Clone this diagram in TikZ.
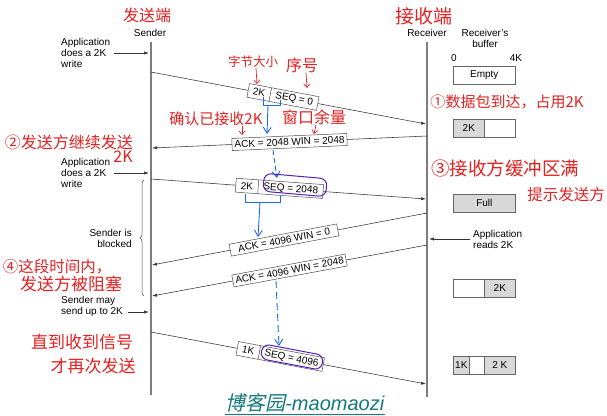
\documentclass[tikz,border=0pt]{standalone}
\usepackage{fontspec}
\setmainfont{Liberation Sans}
\newfontfamily\cjk{Noto Sans CJK SC}
\newfontfamily\cjkit[FakeSlant=0.22]{Noto Sans CJK SC}
\usetikzlibrary{arrows.meta,shapes.multipart,decorations.pathreplacing}
\definecolor{annred}{RGB}{228,32,32}
\definecolor{annblue}{RGB}{30,105,235}
\definecolor{annpurple}{RGB}{85,30,190}
\definecolor{bufgray}{RGB}{216,216,216}
\definecolor{linegray}{RGB}{125,125,125}
\definecolor{tealtxt}{RGB}{20,120,125}
\tikzset{
  timeline/.style={draw=linegray, line width=1.3pt},
  msg/.style={draw=black!80, line width=0.55pt, -{Latex[length=5pt,width=3.2pt]}},
  appar/.style={draw=black!80, line width=0.55pt, -{Latex[length=5pt,width=3.2pt]}},
  lbl/.style={draw=black!70, fill=white, line width=0.5pt, inner xsep=2.5pt, inner ysep=2.5pt, font=\fontsize{10}{11}\selectfont},
  seglbl/.style={lbl, inner xsep=5pt, rectangle split, rectangle split horizontal, rectangle split parts=2},
  txt/.style={font=\fontsize{10}{11}\selectfont, align=left, inner sep=0pt},
  buf/.style={draw=black!60, line width=0.6pt, minimum height=18pt, inner sep=0pt, anchor=north west, font=\fontsize{10}{11}\selectfont},
  redtxt/.style={text=annred, inner sep=0pt},
  redarr/.style={draw=annred, line width=0.7pt, -{Straight Barb[length=3.5pt,width=6pt]}},
  bluepen/.style={draw=annblue, line width=1pt},
  bluearr/.style={draw=annblue, line width=0.9pt, -{Straight Barb[length=6pt,width=8pt]}},
  loop/.style={draw=annpurple, line width=1pt, rounded corners=7pt, inner sep=0pt}
}
\begin{document}
\begin{tikzpicture}[x=1pt,y=-1pt]
\useasboundingbox (0,0) rectangle (607,415);

% headers
\node[font=\fontsize{10}{11}\selectfont] (sender) at (150,33) {Sender};
\node[font=\fontsize{10}{11}\selectfont] (receiver) at (427,33) {Receiver};
\node[font=\fontsize{10}{11}\selectfont, align=center] (rbuf) at (485,38) {Receiver's\\buffer};
\node[font=\fontsize{10}{11}\selectfont] (zero) at (454,58) {0};
\node[font=\fontsize{10}{11}\selectfont] (fourk) at (516,58) {4K};

% time lines
\coordinate (stop) at (151,42); \coordinate (sbot) at (151,395);
\coordinate (rtop) at (427,42); \coordinate (rbot) at (427,397);
\draw[timeline] (stop) -- (sbot);
\draw[timeline] (rtop) -- (rbot);

% application texts
\node[txt, anchor=west] (app1) at (61,53) {Application\\does a 2K\\write};
\coordinate (a1s) at (114,53); \coordinate (a1e) at (149,53);
\draw[appar] (a1s) -- (a1e);
\node[txt, anchor=west] (app2) at (61,173) {Application\\does a 2K\\write};
\coordinate (a2s) at (114,173); \coordinate (a2e) at (149,173);
\draw[appar] (a2s) -- (a2e);
\node[txt, anchor=west] (may) at (61,306) {Sender may\\send up to 2K};
\coordinate (a3s) at (128,312); \coordinate (a3e) at (149,312);
\draw[appar] (a3s) -- (a3e);
\node[txt, anchor=west] (reads) at (473,239) {Application\\reads 2K};
\coordinate (a4s) at (470,239); \coordinate (a4e) at (429,239);
\draw[appar] (a4s) -- (a4e);
\node[txt, align=right, anchor=east] (blocked) at (132,238) {Sender is\\blocked};
\coordinate (brb) at (144,296); \coordinate (brt) at (144,180);
\draw[black!70, line width=0.5pt, decorate, decoration={brace, amplitude=4pt}] (brb) -- (brt);

% messages
\coordinate (s1) at (151,72); \coordinate (r1) at (426,124);
\draw[msg] (s1) -- node[seglbl, sloped, pos=0.48] (d1) {2K\nodepart{two}SEQ = 0} (r1);
\coordinate (r2) at (427,136); \coordinate (s2) at (152,148);
\draw[msg] (r2) -- node[lbl, sloped, pos=0.5] (k1) {ACK = 2048 WIN = 2048} (s2);
\coordinate (s3) at (151,179); \coordinate (r3) at (426,199);
\draw[msg] (s3) -- node[seglbl, sloped, pos=0.467] (d2) {2K\nodepart{two}SEQ = 2048} (r3);
\coordinate (r4) at (427,213); \coordinate (s4) at (152,265);
\draw[msg] (r4) -- node[lbl, inner xsep=8pt, sloped, pos=0.52] (k2) {ACK = 4096 WIN = 0} (s4);
\coordinate (r5) at (427,245); \coordinate (s5) at (152,296);
\draw[msg] (r5) -- node[lbl, sloped, pos=0.5] (k3) {ACK = 4096 WIN = 2048} (s5);
\coordinate (s6) at (151,332); \coordinate (r6) at (426,384);
\draw[msg] (s6) -- node[seglbl, sloped, pos=0.47] (d3) {1K\nodepart{two}SEQ = 4096} (r6);

% buffers
\node[buf, minimum width=62pt] (b0) at (453,66) {Empty};
\node[buf, fill=bufgray, minimum width=31pt] (b1a) at (453,119) {2K};
\node[buf, minimum width=31pt] (b1b) at (484,119) {};
\node[buf, fill=bufgray, minimum width=62pt] (b2) at (453,194) {Full};
\node[buf, minimum width=31pt] (b3a) at (453,279) {};
\node[buf, fill=bufgray, minimum width=31pt] (b3b) at (484,279) {2K};
\node[buf, fill=bufgray, minimum width=16pt] (b4a) at (453,356) {1K};
\node[buf, minimum width=15pt] (b4b) at (469,356) {};
\node[buf, fill=bufgray, minimum width=31pt] (b4c) at (484,356) {2 K};

% blue annotations
\draw[bluepen] (263,97) -- (263,105) -- (280,105) -- (280,100);
\coordinate (bl1s) at (268,105); \coordinate (bl1e) at (267,134);
\draw[bluearr] (bl1s) -- (bl1e);
\coordinate (bd1s) at (273,150); \coordinate (bd1e) at (277,178);
\draw[bluearr, dash pattern=on 5pt off 3pt] (bd1s) -- (bd1e);
\draw[bluepen] (245,194) -- (245,202) -- (280,202) -- (280,196);
\coordinate (bl2s) at (260,202); \coordinate (bl2e) at (258,237);
\draw[bluearr] (bl2s) -- (bl2e);
\coordinate (bd2s) at (276,281); \coordinate (bd2e) at (279,346);
\draw[bluearr, dash pattern=on 7pt off 4pt] (bd2s) -- (bd2e);

% purple loops
\node[loop, minimum width=63pt, minimum height=18pt, rotate=-5] (p1) at (295,185) {};
\node[loop, minimum width=62pt, minimum height=15pt, rotate=-10.7] (p2) at (292,357) {};

% red annotations
\node[redtxt, font=\cjk\fontsize{16}{18}\selectfont] (hs) at (147,15) {发送端};
\node[redtxt, font=\cjk\fontsize{19}{21}\selectfont] (hr) at (424,16) {接收端};
\node[redtxt, font=\cjk\fontsize{12.5}{14}\selectfont] (n1) at (253,62) {字节大小};
\coordinate (n1e) at (257,84);
\draw[redarr] ([xshift=3pt]n1.south) -- (n1e);
\node[redtxt, font=\cjk\fontsize{16}{18}\selectfont] (n2) at (302,65) {序号};
\coordinate (n2e) at (307,88);
\draw[redarr] ([xshift=4pt]n2.south) -- (n2e);
\node[redtxt, font=\cjk\fontsize{15}{17}\selectfont] (n3) at (216,119) {确认已接收2K};
\coordinate (n3s) at (242,126); \coordinate (n3e) at (242,135);
\draw[redarr] (n3s) -- (n3e);
\node[redtxt, font=\cjk\fontsize{16}{18}\selectfont] (n4) at (314,117) {窗口余量};
\coordinate (n4s) at (316,125); \coordinate (n4e) at (314,134);
\draw[redarr] (n4s) -- (n4e);
\node[redtxt, font=\cjk\fontsize{15}{17}\selectfont] (n5) at (507,102) {①数据包到达，占用2K};
\node[redtxt, font=\cjk\fontsize{16}{18}\selectfont] (n6) at (69,142) {②发送方继续发送};
\node[redtxt, font=\cjk\fontsize{16}{18}\selectfont] (n6b) at (123,157) {2K};
\node[redtxt, font=\cjk\fontsize{18.5}{20}\selectfont] (n7) at (505,168) {③接收方缓冲区满};
\node[redtxt, font=\cjk\fontsize{15.5}{17}\selectfont] (n8) at (566,195) {提示发送方};
\node[redtxt, font=\cjk\fontsize{15.5}{17}\selectfont] (n9) at (57,267) {④这段时间内，};
\node[redtxt, font=\cjk\fontsize{17}{19}\selectfont] (n10) at (71,284) {发送方被阻塞};
\node[redtxt, font=\cjk\fontsize{17}{19}\selectfont] (n11) at (82,342) {直到收到信号};
\node[redtxt, font=\cjk\fontsize{17}{19}\selectfont] (n12) at (93,366) {才再次发送};

% footer
\node[text=tealtxt, inner sep=0pt, font=\fontsize{20}{22}\selectfont] (foot) at (305,403) {{\cjkit 博客园}\textit{-maomaozi}};
\draw[tealtxt, line width=0.8pt] ([yshift=-1.5pt]foot.south west) -- ([yshift=-1.5pt]foot.south east);
\end{tikzpicture}
\end{document}
